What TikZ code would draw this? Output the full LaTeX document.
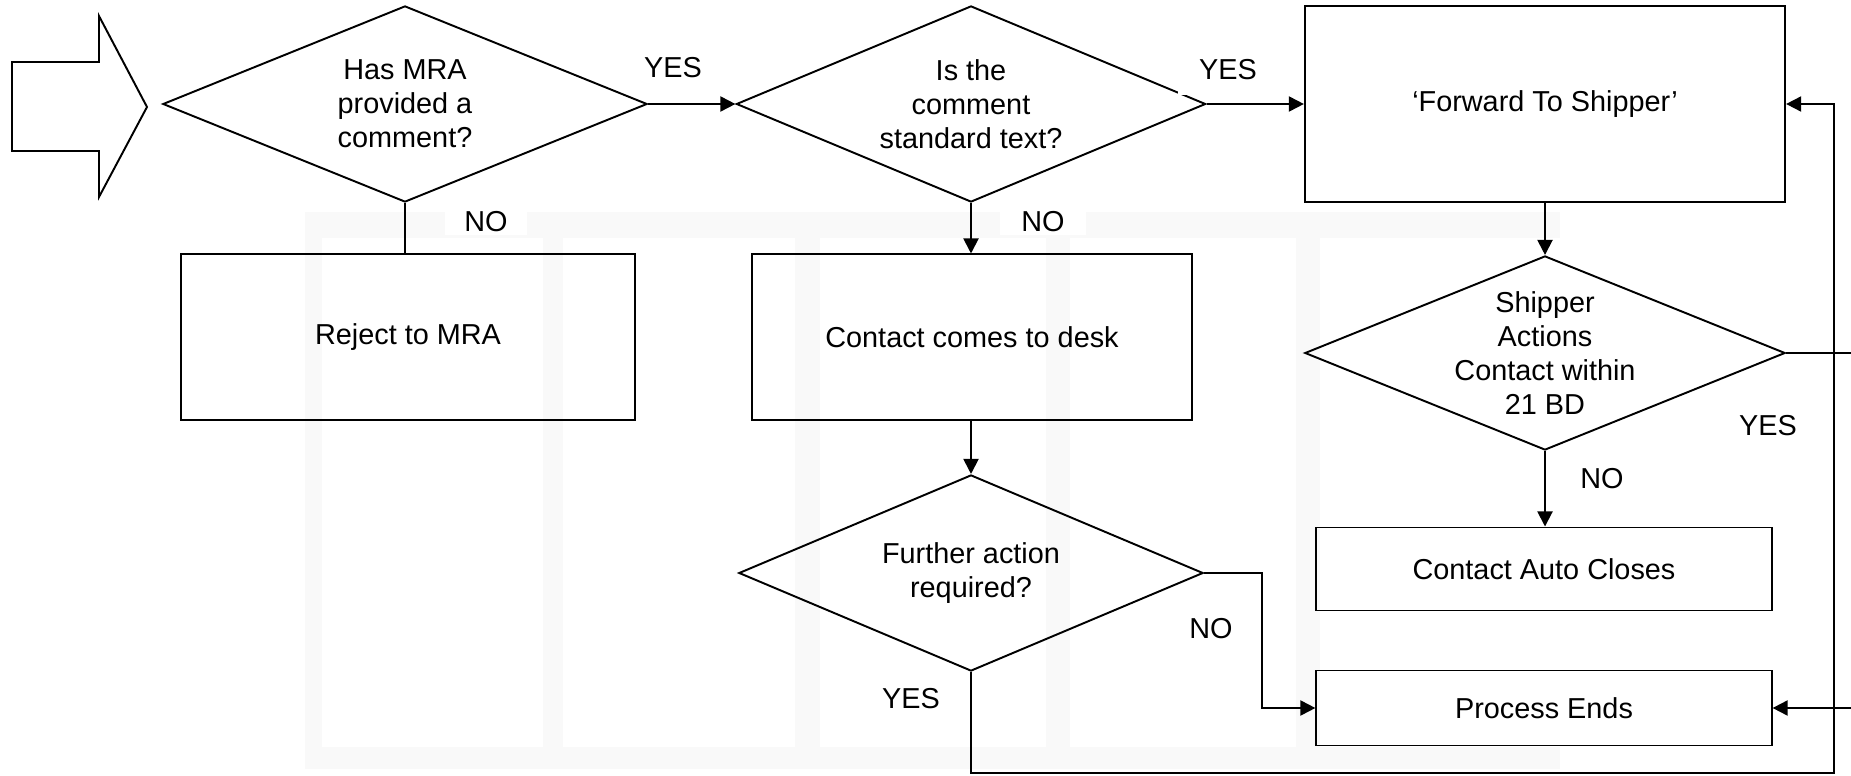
\documentclass[tikz,border=0pt]{standalone}
\usepackage{fontspec}
\setmainfont{Liberation Sans}
\usetikzlibrary{shapes.geometric,arrows.meta}
\begin{document}
\begin{tikzpicture}[x=0.01cm,y=-0.01cm,line width=0.55pt,
  font=\fontsize{8.2pt}{9.7pt}\selectfont,
  dia/.style={draw,shape=diamond,inner sep=0pt},
  box/.style={draw,rectangle,inner sep=0pt},
  txt/.style={align=center,inner sep=0pt},
  lbl/.style={inner sep=0pt},
  lblw/.style={fill=white,inner sep=0pt},
  arr/.style={-{Triangle[length=4.3pt,width=4.3pt]}},
  wm/.style={fill=black!2.5,draw=none}]

% page
\fill[white] (0,0) rectangle (1851,776);
\useasboundingbox (0,0) rectangle (1851,776);

% faint building watermark in the background
\fill[wm] (305,212) rectangle (1560,238);
\fill[wm] (305,747) rectangle (1560,769);
\foreach \a/\b in {305/322,543/563,795/820,1046/1070,1296/1320}
  \fill[wm] (\a,238) rectangle (\b,747);

% entry arrow
\draw (12,62) -- (99,62) -- (99,16) -- (147,107) -- (99,197) -- (99,151) -- (12,151) -- cycle;

% decisions
\node[dia,minimum width=4.84cm,minimum height=1.96cm] (d1) at (405,104) {};
\node[txt] (d1t) at (d1) {Has MRA\\provided a\\comment?};
\node[dia,minimum width=4.69cm,minimum height=1.96cm] (d2) at (971,104) {};
\node[txt] (d2t) at (d2) {Is the\\comment\\standard text?};
\node[dia,minimum width=4.80cm,minimum height=1.94cm] (d3) at (1545,353) {};
\node[txt] (d3t) at (d3) {Shipper\\Actions\\Contact within\\21 BD};
\node[dia,minimum width=4.64cm,minimum height=1.96cm] (d4) at (971,573) {};
\node[txt] (d4t) at (d4) {Further action\\required?};

% process boxes
\node[box,minimum width=4.80cm,minimum height=1.96cm] (fwd) at (1545,104) {‘Forward To Shipper’};
\node[box,minimum width=4.53cm,minimum height=1.65cm] (rej) at (408,337) {Reject to MRA};
\node[box,minimum width=4.40cm,minimum height=1.65cm] (desk) at (972,337) {Contact comes to desk};
\node[box,minimum width=4.55cm,minimum height=0.83cm] (auto) at (1544,569) {Contact Auto Closes};
\node[box,minimum width=4.55cm,minimum height=0.75cm] (pend) at (1544,708) {Process Ends};

% turning points of the long connectors
\coordinate (loop) at (1834,773);
\coordinate (edgeA) at (1870,353);
\coordinate (edgeB) at (edgeA |- pend.east);

% connectors
\draw[arr] (d1.east) -- (d2.west);
\draw[arr] (d2.east) -- (fwd.west);
\draw (d1.south) -- (d1.south |- rej.north);
\draw[arr] (d2.south) -- (d2.south |- desk.north);
\draw[arr] (d4.north |- desk.south) -- (d4.north);
\draw[arr] (fwd.south) -- (d3.north);
\draw[arr] (d3.south) -- (d3.south |- auto.north);
\draw[arr] (d4.east) -- ++(58,0) |- (pend.west);
\draw[arr] (d4.south) |- (loop) |- (fwd.east);
\draw (d3.east) -- (edgeA) -- (edgeB);
\draw[arr] (edgeB) -- (pend.east);

% branch labels
\node[lbl] (y1) at (673,68) {YES};
\node[lblw,minimum width=1.00cm,minimum height=0.50cm] (y2) at (1228,70) {YES};
\node[lblw,minimum width=0.82cm,minimum height=0.26cm] (n1) at (486,222) {NO};
\node[lblw,minimum width=0.85cm,minimum height=0.26cm] (n2) at (1043,222) {NO};
\node[lbl] (y3) at (1768,426) {YES};
\node[lbl] (n3) at (1602,479) {NO};
\node[lbl] (n4) at (1211,629) {NO};
\node[lbl] (y4) at (911,699) {YES};
\end{tikzpicture}
\end{document}
